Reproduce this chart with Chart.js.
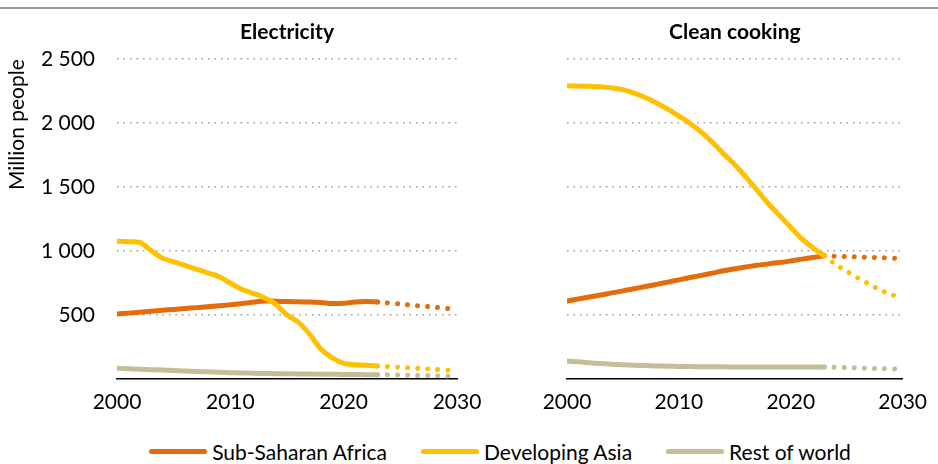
<!DOCTYPE html>
<html>
<head>
<meta charset="utf-8">
<script src="https://cdn.jsdelivr.net/npm/chart.js@4.4.1/dist/chart.umd.min.js"></script>
<style>
  body { margin: 0; background: #fff; width: 938px; height: 464px; overflow: hidden; position: relative; font-family: Lato, sans-serif; }
  #topline { position: absolute; left: 0; top: 7px; width: 938px; height: 2px; background: #999; }
  .panel { position: absolute; top: 0; height: 425px; }
  #left { left: 0; width: 500px; }
  #right { left: 470px; width: 468px; }
  #legend { position: absolute; left: 62px; top: 439px; width: 876px; display: flex; justify-content: center; align-items: center; font-size: 21px; color: #000; }
  .item { display: flex; align-items: center; margin: 0 17px; }
  .swatch { width: 58px; height: 5px; border-radius: 3px; margin-right: 5px; }
</style>
</head>
<body>
<div id="topline"></div>
<div class="panel" id="left"><canvas id="elecChart"></canvas></div>
<div class="panel" id="right"><canvas id="cookChart"></canvas></div>
<div id="legend"></div>

<script>
// Years with historical data
const histYears = [2000, 2001, 2002, 2003, 2004, 2005, 2006, 2007, 2008, 2009, 2010, 2011,
                   2012, 2013, 2014, 2015, 2016, 2017, 2018, 2019, 2020, 2021, 2022, 2023];
const projYears = [2023, 2030];
const projYearsAnnual = [2023, 2024, 2025, 2026, 2027, 2028, 2029, 2030];

// Electricity (million people without access)
const elecAfrica = [508, 515, 522, 530, 537, 544, 551, 558, 565, 572, 580, 590,
                    600, 610, 608, 605, 603, 602, 598, 590, 592, 602, 605, 602];
const elecAsia   = [1076, 1072, 1068, 1005, 945, 916, 888, 859, 830, 800, 750, 702,
                    670, 635, 585, 500, 445, 350, 232, 165, 122, 112, 108, 102];
const elecRest   = [84, 80, 76, 73, 70, 66, 62, 59, 56, 52, 49, 47,
                    45, 43, 42, 41, 40, 39, 38, 37, 36, 35, 34, 34];
const elecAfricaProj = [602, 545];
const elecAsiaProj   = [102, 65];
const elecRestProj   = [34, 22];

// Clean cooking (million people without access)
const cookAfrica = [610, 625, 641, 657, 673, 689, 706, 723, 740, 757, 775, 793,
                    810, 828, 846, 862, 876, 889, 900, 910, 923, 937, 950, 963];
const cookAsia   = [2292, 2290, 2288, 2285, 2276, 2262, 2235, 2200, 2158, 2110, 2055, 1998,
                    1930, 1850, 1760, 1675, 1578, 1475, 1370, 1278, 1185, 1095, 1025, 963];
const cookRest   = [141, 134, 127, 121, 116, 112, 108, 105, 102, 100, 98, 97,
                    96, 95, 95, 94, 94, 94, 94, 94, 94, 94, 94, 94];
const cookAfricaProj = [963, 942];
const cookAsiaProj   = [963, 895, 843, 790, 742, 695, 660, 633];
const cookRestProj   = [94, 76];

const seriesNames = ['Sub-Saharan Africa', 'Developing Asia', 'Rest of world'];
const seriesColors = ['#E46C0A', '#FFC000', '#C4BD97'];
const yTicks = [500, 1000, 1500, 2000, 2500];
const xTicks = [2000, 2010, 2020, 2030];

const FONT = 'Lato, sans-serif';

function pts(xs, ys) {
    return xs.map((x, i) => ({ x: x, y: ys[i] }));
}

function fmt(v) {
    if (v === 0) return '';
    if (v < 1000) return String(v);
    return Math.floor(v / 1000) + ' ' + String(v % 1000).padStart(3, '0');
}

function buildDatasets(hist, proj, projX) {
    const sets = [];
    // yellow on top, then orange, then grey
    [1, 0, 2].forEach(i => {
        sets.push({
            data: pts(histYears, hist[i]),
            borderColor: seriesColors[i],
            borderWidth: 5,
            borderCapStyle: 'round',
            borderJoinStyle: 'round',
            pointRadius: 0,
            tension: 0.3,
            fill: false
        });
        sets.push({
            data: pts(projX[i], proj[i]),
            borderColor: seriesColors[i],
            borderWidth: 5,
            borderCapStyle: 'round',
            borderDash: [0.01, 10],
            pointRadius: 0,
            tension: 0.3,
            fill: false
        });
    });
    return sets;
}

function makeChart(id, title, hist, proj, projX, isLeft) {
    const ctx = document.getElementById(id).getContext('2d');
    return new Chart(ctx, {
        type: 'line',
        data: { datasets: buildDatasets(hist, proj, projX) },
        options: {
            responsive: true,
            maintainAspectRatio: false,
            animation: false,
            layout: { padding: { left: 0, right: isLeft ? 43 : 31, top: 0, bottom: 0 } },
            plugins: {
                legend: { display: false },
                tooltip: { enabled: false },
                title: {
                    display: true,
                    text: title,
                    fullSize: false,
                    color: '#000',
                    font: { family: FONT, size: 21, weight: 'bold' },
                    padding: { top: 20, bottom: 14 }
                }
            },
            scales: {
                x: {
                    type: 'linear',
                    min: 2000,
                    max: 2030,
                    afterBuildTicks: s => { s.ticks = xTicks.map(v => ({ value: v })); },
                    afterFit: s => { s.height = 46; },
                    grid: { display: false, drawTicks: false },
                    border: { display: true, color: '#000', width: 1.5 },
                    ticks: {
                        color: '#000',
                        padding: 11,
                        maxRotation: 0,
                        font: { family: FONT, size: 21 },
                        callback: v => String(v)
                    }
                },
                y: {
                    min: 0,
                    max: 2500,
                    afterBuildTicks: s => { s.ticks = [0].concat(yTicks).map(v => ({ value: v })); },
                    afterFit: s => { s.width = isLeft ? 117 : 97; },
                    grid: {
                        drawTicks: false,
                        lineWidth: 1.5,
                        color: c => (c.tick && c.tick.value === 0) ? 'rgba(0,0,0,0)' : '#999'
                    },
                    border: { display: false, dash: [1.5, 5] },
                    title: {
                        display: isLeft,
                        text: 'Million people',
                        align: 'end',
                        color: '#000',
                        font: { family: FONT, size: 21 },
                        padding: { top: 5, bottom: 0 }
                    },
                    ticks: {
                        display: isLeft,
                        color: '#000',
                        padding: 22,
                        font: { family: FONT, size: 21 },
                        callback: v => fmt(v)
                    }
                }
            }
        }
    });
}

makeChart('elecChart', 'Electricity',
    [elecAfrica, elecAsia, elecRest],
    [elecAfricaProj, elecAsiaProj, elecRestProj],
    [projYears, projYears, projYears], true);

makeChart('cookChart', 'Clean cooking',
    [cookAfrica, cookAsia, cookRest],
    [cookAfricaProj, cookAsiaProj, cookRestProj],
    [projYears, projYearsAnnual, projYears], false);

// Legend
const legend = document.getElementById('legend');
seriesNames.forEach((name, i) => {
    const item = document.createElement('div');
    item.className = 'item';
    const sw = document.createElement('span');
    sw.className = 'swatch';
    sw.style.background = seriesColors[i];
    item.appendChild(sw);
    const label = document.createElement('span');
    label.textContent = name;
    item.appendChild(label);
    legend.appendChild(item);
});
</script>
</body>
</html>
